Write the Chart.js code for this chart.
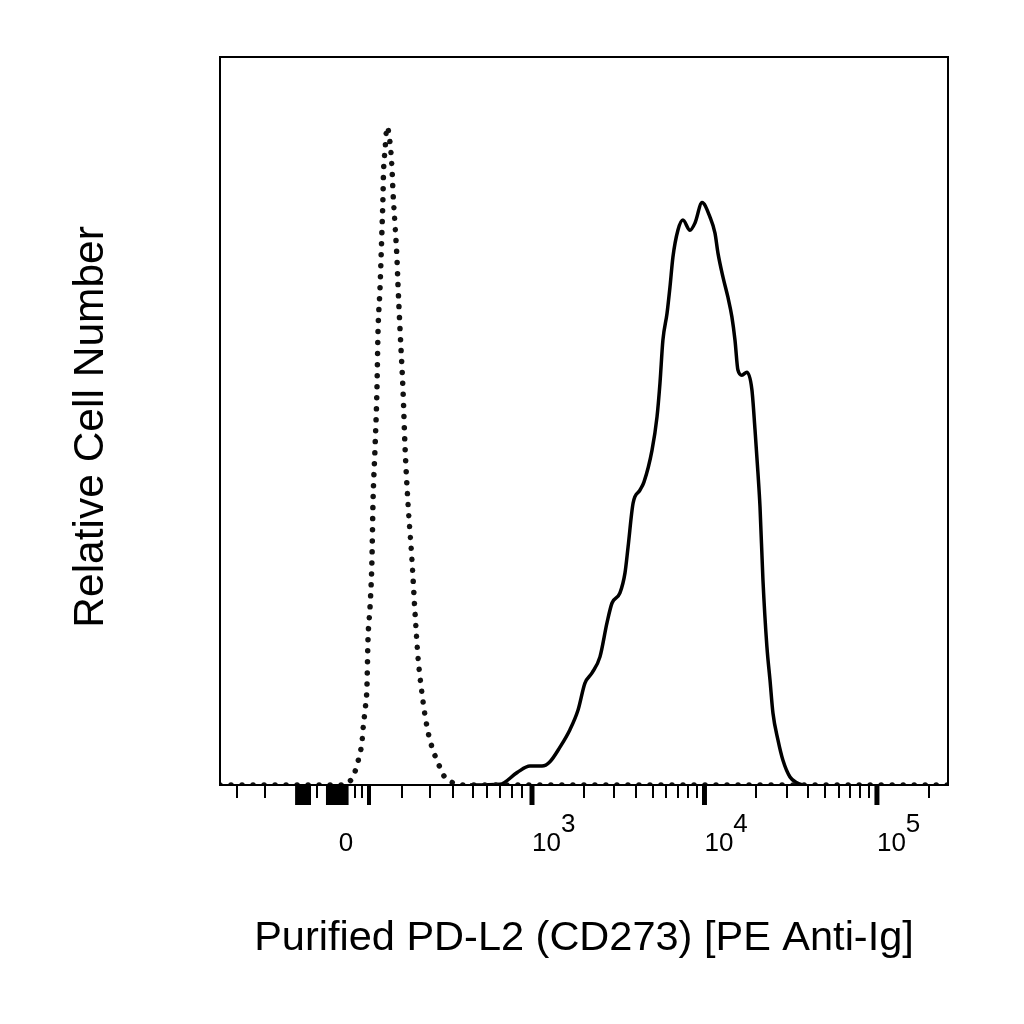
<!DOCTYPE html>
<html>
<head>
<meta charset="utf-8">
<script src="https://cdn.jsdelivr.net/npm/chart.js@4.4.1/dist/chart.umd.min.js"></script>
<style>
  html, body { margin: 0; padding: 0; background: #fff; }
  #wrap { width: 1024px; height: 1024px; }
</style>
</head>
<body>
<div id="wrap"><canvas id="histChart"></canvas></div>
<script>
// x is in display units of the biexponential axis (10^3 -> 3, 10^4 -> 4, 10^5 -> 5)
const xMin = 1.191, xMax = 5.412;

// unstained / control (dotted)
const ctrlX = [1.191, 1.916, 1.933, 1.962, 1.986, 2.003, 2.014, 2.020, 2.032, 2.043, 2.049, 2.061, 2.072, 2.078,
  2.090, 2.101, 2.107, 2.119, 2.130, 2.136, 2.139, 2.148, 2.159, 2.177, 2.188, 2.194, 2.206, 2.217, 2.223,
  2.235, 2.252, 2.264, 2.281, 2.304, 2.322, 2.339, 2.362, 2.391, 2.420, 2.449, 2.496, 2.542, 2.58, 5.412];
const ctrlY = [0, 0, 0.3, 1.1, 2.8, 4.4, 5.8, 7.6, 10.3, 13.5, 19.9, 24.5, 30.9, 38.7,
  46.4, 54.3, 62.1, 68.4, 76.2, 80.8, 84.1, 87.2, 90.4, 88.2, 84.8, 81.5, 76.9, 72.4, 68.7,
  62.5, 54.3, 46.4, 38.7, 30.9, 23.6, 17.6, 12.6, 8.0, 5.2, 3.4, 1.0, 0.3, 0, 0];

// PD-L2 stained (solid)
const pdX = [2.641, 2.814, 2.913, 2.988, 3.058, 3.104, 3.162, 3.220, 3.267, 3.307, 3.348, 3.394, 3.435, 3.464,
  3.510, 3.539, 3.557, 3.586, 3.626, 3.649, 3.696, 3.725, 3.742, 3.759, 3.783, 3.800, 3.817, 3.846, 3.875,
  3.916, 3.945, 3.986, 4.032, 4.061, 4.078, 4.107, 4.136, 4.159, 4.177, 4.194, 4.217, 4.246, 4.275, 4.293,
  4.310, 4.322, 4.339, 4.362, 4.380, 4.397, 4.426, 4.455, 4.496, 4.536, 4.571];
const pdY = [0, 0.1, 1.7, 2.6, 2.6, 3.2, 5.2, 7.6, 10.3, 14.0, 15.4, 17.6, 22.3, 25.0,
  26.4, 29.1, 32.7, 38.7, 40.5, 41.6, 46.0, 50.6, 55.2, 61.1, 64.8, 68.4, 72.5, 76.2, 77.6,
  76.2, 77.2, 80.0, 78.0, 75.8, 73.1, 69.8, 67.0, 64.3, 61.1, 57.0, 56.3, 56.7, 54.3, 48.8,
  42.9, 38.2, 28.2, 19.0, 14.4, 9.9, 6.2, 3.4, 1.1, 0.3, 0];

// axis ticks
const majorTicks = [1.922, 3, 4, 5];
const majorLabels = ['0', '10^3', '10^4', '10^5'];
const longTicks = [1.638, 1.655, 1.672, 1.690, 1.707, 1.817, 1.835, 1.852, 1.870, 1.887, 1.904, 2.055];
const minorTicks = [1.290, 1.452, 1.754, 1.974, 2.014, 2.246, 2.409, 2.542, 2.658, 2.739, 2.814, 2.884, 2.942,
  3.301, 3.477, 3.602, 3.699, 3.778, 3.845, 3.903, 3.954,
  4.301, 4.477, 4.602, 4.699, 4.778, 4.845, 4.903, 4.954, 5.301];
const allTicks = majorTicks.concat(longTicks, minorTicks).sort((a, b) => a - b);

const xTitle = 'Purified PD-L2 (CD273) [PE Anti-Ig]';
const yTitle = 'Relative Cell Number ';

function labelFor(v) {
    const i = majorTicks.indexOf(v);
    if (i < 0) return '';
    const lab = majorLabels[i];
    if (lab.indexOf('^') < 0) return ['', lab];
    const exp = lab.split('^')[1];
    // superscript on the first line, base on the second
    return [' '.repeat(10) + exp, '    ' + lab.split('^')[0]];
}

// box around the plot + the longer tick marks
const frameAndTicks = {
    id: 'frameAndTicks',
    afterDraw(chart) {
        const { ctx, chartArea: a } = chart;
        const x = chart.scales.x;
        ctx.save();
        ctx.strokeStyle = '#000';
        ctx.lineWidth = 2;
        ctx.strokeRect(a.left, a.top, a.right - a.left, a.bottom - a.top);
        majorTicks.concat(longTicks).forEach(v => {
            const px = x.getPixelForValue(v);
            ctx.lineWidth = majorTicks.includes(v) ? 5 : 4;
            ctx.beginPath();
            ctx.moveTo(px, a.bottom);
            ctx.lineTo(px, a.bottom + 20);
            ctx.stroke();
        });
        ctx.restore();
    }
};

Chart.defaults.font.family = "'Liberation Sans', Arial, sans-serif";
Chart.defaults.color = '#000';

const ctx = document.getElementById('histChart').getContext('2d');
const histChart = new Chart(ctx, {
    type: 'line',
    data: {
        datasets: [{
            label: 'Control',
            data: ctrlX.map((v, i) => ({ x: v, y: ctrlY[i] })),
            borderColor: '#111',
            borderWidth: 5.5,
            borderDash: [0.01, 11],
            borderCapStyle: 'round',
            cubicInterpolationMode: 'monotone',
            pointRadius: 0,
            fill: false
        }, {
            label: 'PD-L2',
            data: pdX.map((v, i) => ({ x: v, y: pdY[i] })),
            borderColor: '#000',
            borderWidth: 3.5,
            borderJoinStyle: 'round',
            cubicInterpolationMode: 'monotone',
            pointRadius: 0,
            fill: false
        }]
    },
    options: {
        responsive: true,
        maintainAspectRatio: false,
        animation: false,
        layout: { padding: { top: 57, right: 76, bottom: 0, left: 0 } },
        plugins: { legend: { display: false }, tooltip: { enabled: false } },
        scales: {
            x: {
                type: 'linear',
                min: xMin,
                max: xMax,
                afterBuildTicks: s => { s.ticks = allTicks.map(v => ({ value: v })); },
                afterFit: s => { s.height = 1024 - 785; },
                grid: { display: true, drawOnChartArea: false, drawTicks: true, tickLength: 13, lineWidth: 2, tickWidth: 2, tickColor: '#000' },
                border: { display: false },
                ticks: {
                    autoSkip: false,
                    maxRotation: 0,
                    padding: 17,
                    color: '#000',
                    font: { size: 26, lineHeight: 0.73 },
                    callback: v => labelFor(v)
                },
                title: { display: true, text: xTitle, color: '#000', font: { size: 41.5 }, padding: { top: 0, bottom: 61 } }
            },
            y: {
                min: 0,
                max: 100,
                afterFit: s => { s.width = 220; },
                grid: { display: false },
                border: { display: false },
                ticks: { display: false },
                title: { display: true, text: yTitle, color: '#000', font: { size: 42.5 }, padding: { top: 66, bottom: 0 } }
            }
        }
    },
    plugins: [frameAndTicks]
});
</script>
</body>
</html>
